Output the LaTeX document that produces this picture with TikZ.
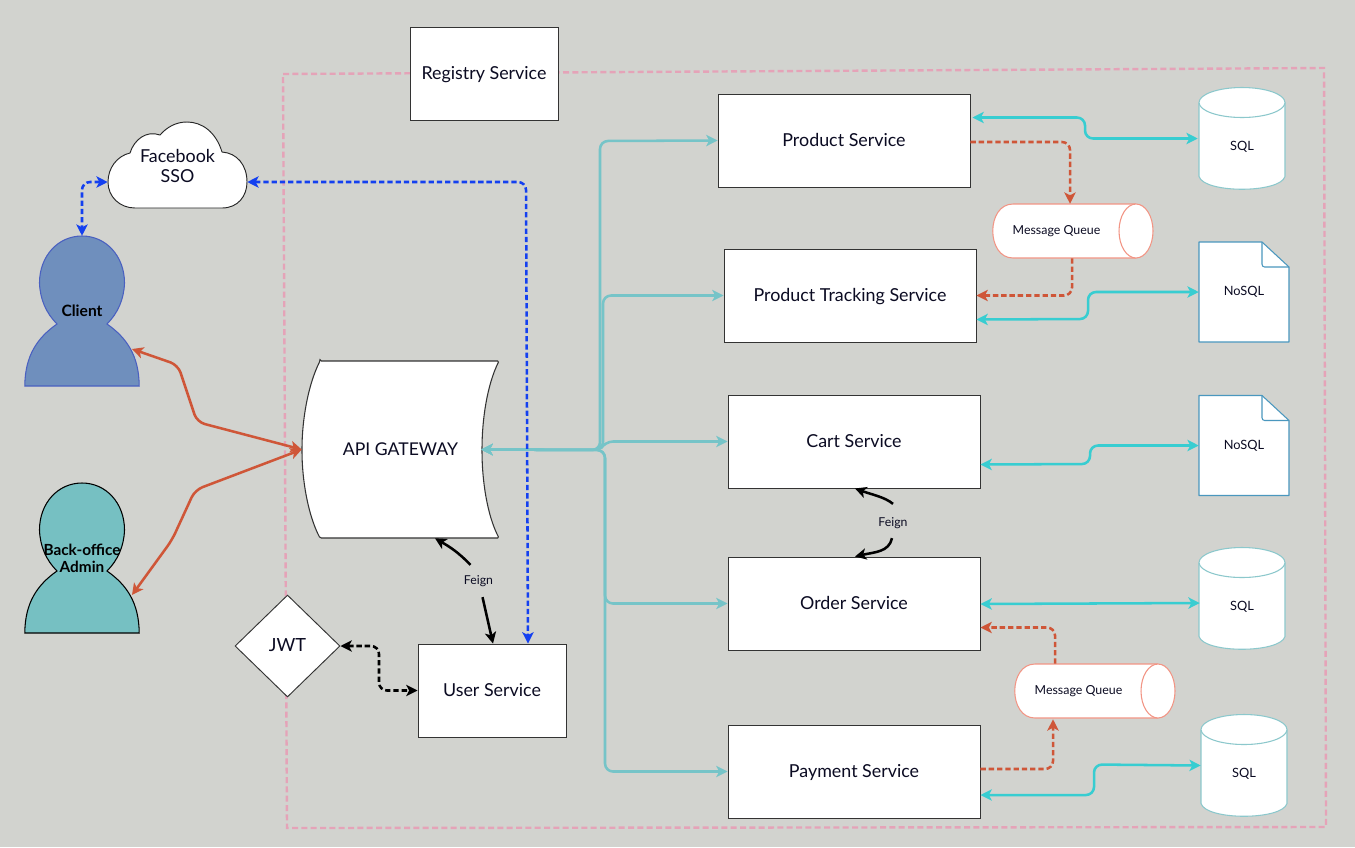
\documentclass[tikz,border=0pt]{standalone}
\usepackage{fontspec}
\setmainfont{Lato}
\usetikzlibrary{arrows.meta,calc,shapes.geometric}
\definecolor{bgc}{HTML}{D2D3CF}
\definecolor{framec}{HTML}{E5A3B8}
\definecolor{gwc}{HTML}{76C4C8}
\definecolor{dbc}{HTML}{38CDD1}
\definecolor{redc}{HTML}{CF5638}
\definecolor{bluec}{HTML}{1440F0}
\definecolor{inkc}{HTML}{0B0B22}
\definecolor{cylc}{HTML}{8CC8CC}
\definecolor{docc}{HTML}{4A97BE}
\definecolor{mqc}{HTML}{F29585}
\definecolor{clientc}{HTML}{6F8FBD}
\definecolor{clientl}{HTML}{4A60C0}
\definecolor{adminc}{HTML}{76C0C2}
\tikzset{
  x=0.75pt,y=-0.75pt,
  txt/.style={font=\fontsize{#1}{15}\selectfont,text=inkc,inner sep=0pt,align=center},
  capline/.style={text height=0.8em,text depth=0.08em},
  capbig/.style={text height=0.95em,text depth=0.06em},
  svc/.style n args={2}{draw=black!80,line width=0.7pt,fill=white,minimum width=#1*0.75pt,minimum height=#2*0.75pt,inner sep=0pt,txt=13.4,capbig},
  ghost/.style n args={2}{minimum width=#1*0.75pt,minimum height=#2*0.75pt,inner sep=0pt},
  conn/.style={line width=1.9pt,rounded corners=6pt,{Stealth[length=8.5pt,width=8.5pt,inset=2.2pt]}-{Stealth[length=8.5pt,width=8.5pt,inset=2.2pt]}},
  oneway/.style={line width=1.9pt,rounded corners=6pt,-{Stealth[length=8.5pt,width=8.5pt,inset=2.2pt]}},
  gwlink/.style={conn,draw=gwc},
  dblink/.style={conn,draw=dbc},
  mqlink/.style={oneway,draw=redc,dash pattern=on 4pt off 2.2pt},
  redlink/.style={conn,draw=redc},
  bluelink/.style={conn,draw=bluec,dash pattern=on 4pt off 2.2pt},
  jwtlink/.style={conn,draw=black,dash pattern=on 4pt off 2.2pt},
  feignlink/.style={oneway,draw=black},
}
\newcommand{\dbshape}[3]{%
  \begin{scope}[shift={(#2,#3)}]
    \draw[draw=cylc,line width=0.8pt,fill=white] (-43,-36) -- (-43,38) .. controls (-38,55) and (38,55) .. (43,38) -- (43,-36);
    \draw[draw=cylc,line width=0.8pt,fill=white] (0,-36) ellipse (43 and 15);
    \node[ghost={86}{103}] (#1) at (0,0) {};
    \node[txt=9.6,capline] (#1t) at (0,7) {SQL};
  \end{scope}}
\newcommand{\docshape}[3]{%
  \begin{scope}[shift={(#2,#3)}]
    \draw[draw=docc,line width=0.8pt,fill=white,line join=round] (-45,-50) -- (18,-50) -- (45,-25) -- (45,50) -- (-45,50) -- cycle;
    \draw[draw=docc,line width=0.8pt,rounded corners=2pt] (18,-50) -- (18,-25) -- (45,-25);
    \node[ghost={90}{100}] (#1) at (0,0) {};
    \node[txt=9.6,capline] (#1t) at (0,-1) {NoSQL};
  \end{scope}}
\newcommand{\mqshape}[3]{%
  \begin{scope}[shift={(#2,#3)}]
    \draw[draw=mqc,line width=0.8pt,fill=white] (63,-27) -- (-60,-27) .. controls (-87,-27) and (-87,27) .. (-60,27) -- (63,27);
    \draw[draw=mqc,line width=0.8pt,fill=white] (63,0) ellipse (17 and 27);
    \node[ghost={160}{54}] (#1) at (0,0) {};
    \node[txt=9.3,capline] (#1t) at (-16.5,-1) {Message Queue};
  \end{scope}}
\newcommand{\personshape}[5]{%
  \begin{scope}[shift={(#2,#3)}]
    \draw[draw=#5,fill=#4,line width=0.8pt] (-57.2,75) -- (57.2,75)
      .. controls (57,45) and (45,27) .. (25,13)
      .. controls (36,2) and (42,-12) .. (42.5,-28)
      .. controls (42.5,-55) and (24,-75) .. (0,-75)
      .. controls (-24,-75) and (-42.5,-55) .. (-42.5,-28)
      .. controls (-42,-12) and (-36,2) .. (-25,13)
      .. controls (-45,27) and (-57,45) .. (-57.2,75) -- cycle;
  \end{scope}}
\begin{document}
\begin{tikzpicture}
\useasboundingbox (0,0) rectangle (1355,847);
\fill[bgc] (0,0) rectangle (1355,847);
% dashed frame
\draw[framec,line width=1.8pt,dash pattern=on 4.5pt off 2.5pt] (283,74) -- (1324,68) -- (1326,827) -- (287,828) -- cycle;
% boxes
\node[svc={148}{93}] (registry) at (484,73.5) {Registry Service};
\node[svc={252}{93}] (product) at (844,140.5) {Product Service};
\node[svc={252}{93}] (tracking) at (850,295.5) {Product Tracking Service};
\node[svc={252}{93}] (cart) at (854,441.5) {Cart Service};
\node[svc={252}{93}] (order) at (854,603.5) {Order Service};
\node[svc={252}{93}] (payment) at (854,771.5) {Payment Service};
\node[svc={148}{93}] (user) at (492,690.5) {User Service};
\node[diamond,draw=black!80,line width=0.7pt,fill=white,minimum width=105*0.75pt,minimum height=102*0.75pt,inner sep=0pt,txt=13.6,capbig] (jwt) at (287.5,646) {JWT};
% API gateway
\draw[draw=black!80,line width=0.8pt,fill=white,rounded corners=1pt] (320,361) -- (499,361)
  .. controls (487,385) and (482,420) .. (482,450)
  .. controls (482,480) and (487,515) .. (499,538) -- (320,538)
  .. controls (308,515) and (302,480) .. (302,450)
  .. controls (302,420) and (308,385) .. (320,361) -- cycle;
\node[ghost={197}{177},txt=13.2,capbig] (api) at (400.5,449.5) {API GATEWAY};
% cloud
\draw[draw=black!85,line width=0.7pt,fill=white] (135,208) -- (222,208)
  .. controls (238,208) and (247,196) .. (247,182)
  .. controls (247,165) and (237,153) .. (222,152)
  .. controls (216,132) and (202,122) .. (187,122)
  .. controls (176,122) and (167,127) .. (160,135)
  .. controls (146,130) and (134,140) .. (130,153)
  .. controls (117,156) and (108,168) .. (108,182)
  .. controls (108,197) and (120,208) .. (135,208) -- cycle;
\node[ghost={139}{86},txt=13.4] (cloud) at (177.5,165.5) {Facebook\\SSO};
% persons
\personshape{client}{82}{311}{clientc}{clientl}
\node[ghost={114}{150},font=\fontsize{11.7}{13}\selectfont\bfseries,align=center] (client) at (82,311) {Client};
\personshape{admin}{82}{558}{adminc}{black}
\node[ghost={114}{150},font=\fontsize{11.5}{13}\selectfont\bfseries,align=center] (admin) at (82,558) {Back-office\\Admin};
% stores
\dbshape{sqla}{1242}{138.5}
\dbshape{sqlb}{1242}{598.5}
\dbshape{sqlc}{1244}{765.5}
\docshape{nosqla}{1244}{292}
\docshape{nosqlb}{1244}{445.5}
\mqshape{mqa}{1073}{231}
\mqshape{mqb}{1095}{691}
% feign labels
\node[txt=9.2,capline] (feigna) at (478.5,580) {Feign};
\node[txt=9.2,capline] (feignb) at (893,522) {Feign};
% gateway links
\draw[gwlink] ($(api.east)+(-18,0)$) -- (600,450) -- (600,141) -- (product.west);
\draw[gwlink] ($(api.east)+(-18,0)$) -- (603,450) -- (603,295.5) -- (tracking.west);
\draw[gwlink] ($(api.east)+(-18,0)$) -- (600,450) -- (605,441.5) -- (cart.west);
\draw[gwlink] ($(api.east)+(-18,0)$) -- (605,450) -- (605,603.5) -- (order.west);
\draw[gwlink] ($(api.east)+(-18,0)$) -- (605,450) -- (605,771.5) -- (payment.west);
% db links
\draw[dblink] ($(product.east)+(2,-23)$) -- (1085,117.5) -- (1085,138.5) -- ($(sqla.west)+(-1,0)$);
\draw[dblink] ($(tracking.east)+(0,24)$) -- (1088,319) -- (1088,292) -- (nosqla.west);
\draw[dblink] ($(cart.east)+(0,23)$) -- (1090,464) -- (1090,445.5) -- (nosqlb.west);
\draw[dblink] ($(order.east)+(0,0.5)$) -- ($(sqlb.west)+(1,4.5)$);
\draw[dblink] ($(payment.east)+(0,23.5)$) -- (1094,795) -- (1094,764.5) -- ($(sqlc.west)+(0,0)$);
% message queue links
\draw[mqlink] ($(product.east)+(0,1.5)$) -- (1070,142) -- ($(mqa.north)+(-3,0)$);
\draw[mqlink] ($(mqa.south)+(-1,0)$) -- (1072,295.5) -- (tracking.east);
\draw[mqlink] ($(mqb.north)+(-40,0)$) -- (1055,627.5) -- ($(order.east)+(0,24)$);
\draw[mqlink] ($(payment.east)+(0,-2.5)$) -- (1053,769) -- ($(mqb.south)+(-42,1)$);
% person links
\draw[redlink] ($(client.center)+(50,38)$) -- (178,365) -- (197,422) -- (api.west);
\draw[redlink] ($(admin.center)+(50,37)$) -- (172,540) -- (195,490) -- (api.west);
% blue links
\draw[bluelink] ($(cloud.west)+(0,16.5)$) -- (82,182) -- (client.north);
\draw[bluelink] ($(cloud.east)+(0,16.5)$) -- (526,182) -- ($(user.north)+(36,0)$);
% jwt link
\draw[jwtlink] (jwt.east) -- (379,646) -- (379,690.5) -- (user.west);
% feign links
\draw[feignlink] ($(feigna.north)+(-8,-9)$) .. controls (458,552) and (450,547) .. ($(api.south)+(34.5,0)$);
\draw[feignlink] ($(feigna.south)+(4,11)$) -- ($(user.north)+(1,0)$);
\draw[feignlink] ($(feignb.north)+(0,-12)$) .. controls (885,497) and (870,494) .. ($(cart.south)+(1,0)$);
\draw[feignlink] ($(feignb.south)+(-1,10)$) .. controls (889,552) and (875,552) .. ($(order.north)+(1,0)$);
\end{tikzpicture}
\end{document}
